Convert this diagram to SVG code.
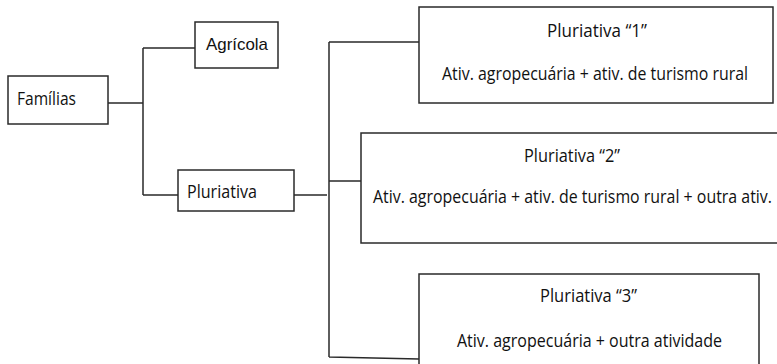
<svg xmlns="http://www.w3.org/2000/svg" width="777" height="364" viewBox="0 0 777 364">
<style>
.box{fill:#fff;stroke:#2a2a2a;stroke-width:1.5}
.ln{fill:none;stroke:#2a2a2a;stroke-width:1.5}
.t{font-family:"Open Sans","Noto Sans",sans-serif;font-size:18px;fill:#111}
.a{font-family:"Liberation Sans",Arial,sans-serif;font-size:17px;fill:#111}
</style>
<rect width="777" height="364" fill="#fff"/>
<g id="connectors">
<path class="ln" d="M108 103H143M143 48V195M143 48H195M143 195H178M294 195H327M329 42V357M329 42H419M329 181H361M329 357L419 359"/>
</g>
<g id="familias"><rect class="box" x="8" y="76" width="100" height="48"/><text class="t" x="17" y="105" textLength="59" lengthAdjust="spacingAndGlyphs">Famílias</text></g>
<g id="agricola"><rect class="box" x="195" y="22" width="83" height="46"/><text class="a" x="206" y="50" textLength="62" lengthAdjust="spacingAndGlyphs">Agrícola</text></g>
<g id="pluriativa"><rect class="box" x="178" y="170" width="116" height="41"/><text class="t" x="187" y="198" textLength="70" lengthAdjust="spacingAndGlyphs">Pluriativa</text></g>
<g id="p1"><rect class="box" x="419" y="7" width="354" height="96"/>
<text class="t" x="547" y="37" textLength="100" lengthAdjust="spacingAndGlyphs">Pluriativa “1”</text>
<text class="t" x="442" y="80" textLength="306" lengthAdjust="spacingAndGlyphs">Ativ. agropecuária + ativ. de turismo rural</text></g>
<g id="p2"><rect class="box" x="361" y="133" width="430" height="110"/>
<text class="t" x="524" y="162" textLength="96" lengthAdjust="spacingAndGlyphs">Pluriativa “2”</text>
<text class="t" x="373" y="203" textLength="399" lengthAdjust="spacingAndGlyphs">Ativ. agropecuária + ativ. de turismo rural + outra ativ.</text></g>
<g id="p3"><rect class="box" x="419" y="274" width="340" height="110"/>
<text class="t" x="540" y="302" textLength="97" lengthAdjust="spacingAndGlyphs">Pluriativa “3”</text>
<text class="t" x="457" y="347" textLength="265" lengthAdjust="spacingAndGlyphs">Ativ. agropecuária + outra atividade</text></g>
</svg>
